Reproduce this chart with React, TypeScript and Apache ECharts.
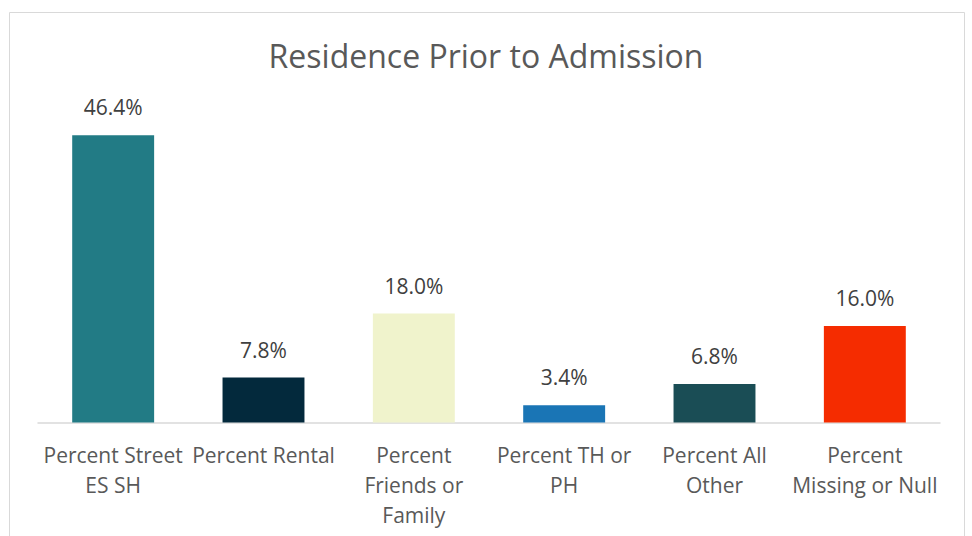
import React, { useEffect, useRef } from "react";
import * as echarts from "echarts";

const title = "Residence Prior to Admission";
const categories = [
  "Percent Street\nES SH",
  "Percent Rental",
  "Percent\nFriends or\nFamily",
  "Percent TH or\nPH",
  "Percent All\nOther",
  "Percent\nMissing or Null",
];
const values = [46.4, 7.8, 18.0, 3.4, 6.8, 16.0];
const colors = ["#227b85", "#03293c", "#f0f3cc", "#1a75b5", "#1a4d55", "#f52c00"];

export default function App() {
  const ref = useRef<HTMLDivElement>(null);
  useEffect(() => {
    if (!ref.current) return;
    const chart = echarts.init(ref.current, null, { renderer: "svg" });
    const font = "'Open Sans', 'Noto Sans', sans-serif";
    chart.setOption({
      animation: false,
      backgroundColor: "#ffffff",
      title: {
        text: title,
        left: "center",
        top: 34,
        textStyle: { fontFamily: font, fontSize: 32, fontWeight: "normal", color: "#595959" },
      },
      graphic: [
        {
          type: "rect",
          shape: { x: 9.5, y: 12.5, width: 955, height: 540 },
          style: { fill: "none", stroke: "#d9d9d9", lineWidth: 1 },
          silent: true,
        },
      ],
      grid: { left: 38, right: 32, top: 112.6, bottom: 113.5, containLabel: false },
      xAxis: {
        type: "category",
        data: categories,
        axisTick: { show: false },
        axisLine: { onZero: false, lineStyle: { color: "#d9d9d9", width: 1.5 } },
        axisLabel: {
          interval: 0,
          margin: 17,
          fontFamily: font,
          fontSize: 21,
          lineHeight: 30,
          color: "#595959",
        },
      },
      yAxis: { type: "value", min: 0.65, max: 50, show: false, splitLine: { show: false } },
      series: [
        {
          type: "bar",
          clip: true,
          barWidth: "54.5%",
          data: values.map((v, i) => ({ value: v, itemStyle: { color: colors[i] } })),
          label: {
            show: true,
            position: "top",
            distance: 17.5,
            fontFamily: font,
            fontSize: 21,
            lineHeight: 21,
            color: "#404040",
            formatter: (p: any) => p.value.toFixed(1) + "%",
          },
        },
      ],
    });
    return () => chart.dispose();
  }, []);
  return (
    <div
      ref={ref}
      style={{ position: "fixed", left: 0, top: 0, width: 972, height: 536 }}
    />
  );
}
